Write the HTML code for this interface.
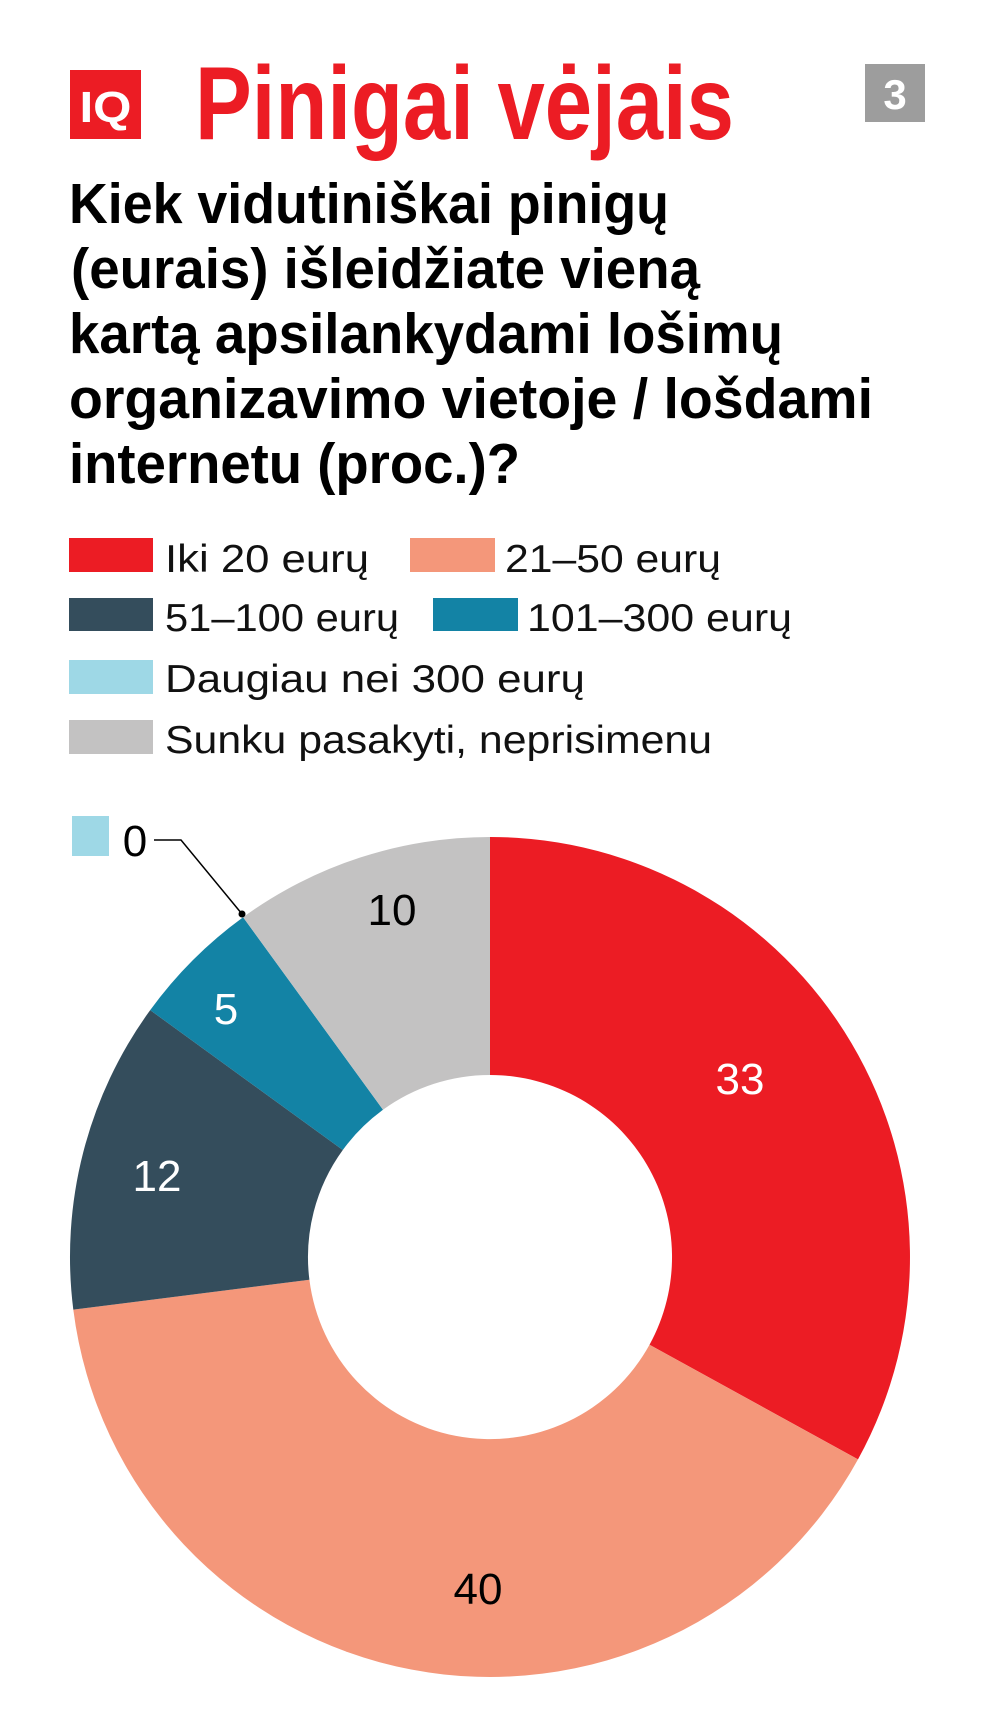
<!DOCTYPE html>
<html><head><meta charset="utf-8"><style>
html,body{margin:0;padding:0;background:#fff;}
svg{display:block;}
</style></head><body>
<svg width="1000" height="1728" viewBox="0 0 1000 1728" xmlns="http://www.w3.org/2000/svg">
<rect width="1000" height="1728" fill="#fff"/>
<!-- header -->
<rect x="70" y="70" width="71" height="69" fill="#EC1C24"/>
<text x="105.5" y="122" font-family="Liberation Sans, sans-serif" font-weight="bold" font-size="44" fill="#fff" text-anchor="middle" textLength="52" lengthAdjust="spacingAndGlyphs">IQ</text>
<text x="195" y="139" font-family="Liberation Sans, sans-serif" font-weight="bold" font-size="104" fill="#EC1C24" textLength="539" lengthAdjust="spacingAndGlyphs">Pinigai vėjais</text>
<rect x="865" y="64" width="60" height="58" fill="#9D9D9D"/>
<text x="895" y="109" font-family="Liberation Sans, sans-serif" font-weight="bold" font-size="42" fill="#fff" text-anchor="middle">3</text>
<!-- question -->
<g font-family="Liberation Sans, sans-serif" font-weight="bold" font-size="57" fill="#000">
<text x="69" y="223" textLength="600" lengthAdjust="spacingAndGlyphs">Kiek vidutiniškai pinigų</text>
<text x="71" y="288" textLength="629" lengthAdjust="spacingAndGlyphs">(eurais) išleidžiate vieną</text>
<text x="69" y="353" textLength="714" lengthAdjust="spacingAndGlyphs">kartą apsilankydami lošimų</text>
<text x="69" y="418" textLength="804" lengthAdjust="spacingAndGlyphs">organizavimo vietoje / lošdami</text>
<text x="69" y="483" textLength="451" lengthAdjust="spacingAndGlyphs">internetu (proc.)?</text>
</g>
<!-- legend -->
<rect x="69" y="538" width="84" height="34" fill="#EC1C24"/>
<rect x="410" y="538" width="85" height="34" fill="#F4977A"/>
<rect x="69" y="598" width="84" height="33" fill="#344D5C"/>
<rect x="433" y="598" width="85" height="33" fill="#1383A5"/>
<rect x="69" y="660" width="84" height="34" fill="#9ED8E6"/>
<rect x="69" y="720" width="84" height="34" fill="#C3C2C2"/>
<g font-family="Liberation Sans, sans-serif" font-size="39" fill="#111">
<text x="165" y="572" textLength="204" lengthAdjust="spacingAndGlyphs">Iki 20 eurų</text>
<text x="505" y="572" textLength="216" lengthAdjust="spacingAndGlyphs">21–50 eurų</text>
<text x="165" y="631" textLength="234" lengthAdjust="spacingAndGlyphs">51–100 eurų</text>
<text x="527" y="631" textLength="265" lengthAdjust="spacingAndGlyphs">101–300 eurų</text>
<text x="165" y="692" textLength="420" lengthAdjust="spacingAndGlyphs">Daugiau nei 300 eurų</text>
<text x="165" y="753" textLength="547" lengthAdjust="spacingAndGlyphs">Sunku pasakyti, neprisimenu</text>
</g>
<!-- donut -->
<g transform="translate(490,1257)">
<path d="M0,-420 A420,420 0 0 1 368,202.4 L159.5,87.7 A182,182 0 0 0 0,-182 Z" fill="#EC1C24"/>
<path d="M368,202.4 A420,420 0 0 1 -416.7,52.6 L-180.6,22.8 A182,182 0 0 0 159.5,87.7 Z" fill="#F4977A"/>
<path d="M-416.7,52.6 A420,420 0 0 1 -339.8,-246.9 L-147.2,-107 A182,182 0 0 0 -180.6,22.8 Z" fill="#344D5C"/>
<path d="M-339.8,-246.9 A420,420 0 0 1 -246.9,-339.8 L-107,-147.2 A182,182 0 0 0 -147.2,-107 Z" fill="#1383A5"/>
<path d="M-246.9,-339.8 A420,420 0 0 1 0,-420 L0,-182 A182,182 0 0 0 -107,-147.2 Z" fill="#C3C2C2"/>
</g>
<!-- labels -->
<rect x="72" y="816" width="37" height="40" fill="#9ED8E6"/>
<polyline points="154,840 181,840 242,914" fill="none" stroke="#000" stroke-width="1.5"/>
<circle cx="242" cy="914" r="3.5" fill="#000"/>
<g font-family="Liberation Sans, sans-serif" font-size="44" text-anchor="middle">
<text x="135" y="856" fill="#000">0</text>
<text x="392" y="925" fill="#000">10</text>
<text x="740" y="1094" fill="#fff">33</text>
<text x="226" y="1024" fill="#fff">5</text>
<text x="157" y="1191" fill="#fff">12</text>
<text x="478" y="1604" fill="#000">40</text>
</g>
</svg>
</body></html>
